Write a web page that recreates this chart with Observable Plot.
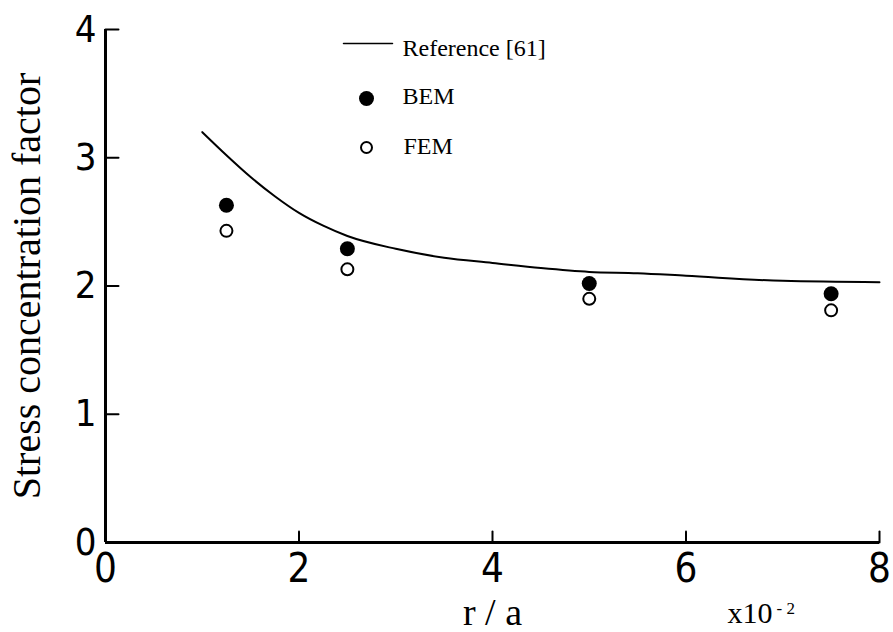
<!DOCTYPE html>
<html>
<head>
<meta charset="utf-8">
<script src="https://cdn.jsdelivr.net/npm/d3@7"></script>
<script src="https://cdn.jsdelivr.net/npm/@observablehq/plot@0.6"></script>
<style>
  body { margin: 0; background: #fff; }
  #chart svg { display: block; }
</style>
</head>
<body>
<div id="chart"></div>
<script>
// Reference [61] curve (r/a in units of 1e-2)
const refX = [1.0, 1.25, 1.5, 1.75, 2.0, 2.25, 2.5, 3.0, 3.5, 4.0, 4.5, 5.0, 5.5, 6.0, 7.0, 8.0];
const refY = [3.20, 3.02, 2.85, 2.70, 2.57, 2.47, 2.39, 2.29, 2.22, 2.18, 2.14, 2.11, 2.10, 2.08, 2.04, 2.03];
// Numerical results
const ptX  = [1.25, 2.5, 5.0, 7.5];
const bemY = [2.63, 2.29, 2.02, 1.94];
const femY = [2.43, 2.13, 1.90, 1.81];
// Axes
const xTicks = [0, 2, 4, 6, 8];
const yTicks = [0, 1, 2, 3, 4];
const yTitle = "Stress concentration factor";
const xTitle = "r / a";
const xExp = "x10";
const xExpSup = "- 2";
const legendLabels = ["Reference [61]", "BEM", "FEM"];

const refData = refX.map((x, i) => ({x, y: refY[i]}));
const bemData = ptX.map((x, i) => ({x, y: bemY[i]}));
const femData = ptX.map((x, i) => ({x, y: femY[i]}));

const sans = "'Liberation Sans Narrow', 'DejaVu Sans Condensed', 'Liberation Sans', sans-serif";
const serif = "'Liberation Serif', 'DejaVu Serif', serif";
const tickShape = {draw(ctx, l) { ctx.moveTo(0, 0); ctx.lineTo(0, -l); }};

const chart = Plot.plot({
  width: 893,
  height: 632,
  marginLeft: 105,
  marginRight: 14,
  marginTop: 29,
  marginBottom: 90,
  x: {domain: [0, 8]},
  y: {domain: [0, 4]},
  style: {background: "#fff", color: "#000"},
  marks: [
    // tick labels
    Plot.axisX({ticks: xTicks, tickFormat: d => String(d), tickSize: 0, tickPadding: 11, fontSize: 40, fontFamily: sans, label: null, fill: "#000"}),
    Plot.axisY({ticks: yTicks, tickFormat: d => String(d), tickSize: 0, tickPadding: 9, fontSize: 38, fontFamily: sans, label: null, fill: "#000"}),
    // inward ticks
    Plot.vector(xTicks.filter(d => d > 0), {x: d => d, y: 0, length: 11, rotate: 0, anchor: "start", shape: tickShape, stroke: "#000", strokeWidth: 2}),
    Plot.vector(yTicks.filter(d => d > 0), {x: 0, y: d => d, length: 13, rotate: 90, anchor: "start", shape: tickShape, stroke: "#000", strokeWidth: 2}),
    // axis lines
    Plot.ruleX([0], {stroke: "#000", strokeWidth: 3}),
    Plot.ruleY([0], {stroke: "#000", strokeWidth: 3}),
    // reference curve
    Plot.line(refData, {x: "x", y: "y", curve: "monotone-x", stroke: "#000", strokeWidth: 2}),
    // FEM open circles
    Plot.dot(femData, {x: "x", y: "y", r: 6, stroke: "#000", strokeWidth: 2, fill: "#fff"}),
    // BEM filled dots
    Plot.dot(bemData, {x: "x", y: "y", r: 7.5, fill: "#000", stroke: "none"}),
    // titles
    Plot.text([yTitle], {text: d => d, frameAnchor: "left", dx: -78, rotate: -90, textAnchor: "middle", lineAnchor: "middle", fontSize: 40, fontFamily: serif, fill: "#000"}),
    Plot.text([xTitle], {text: d => d, frameAnchor: "bottom", dy: 82, textAnchor: "middle", lineAnchor: "bottom", fontSize: 38, fontFamily: serif, fill: "#000"}),
    Plot.text([xExp], {text: d => d, frameAnchor: "bottom-right", dx: -152, dy: 80, textAnchor: "start", lineAnchor: "bottom", fontSize: 30, fontFamily: serif, fill: "#000"}),
    Plot.text([xExpSup], {text: d => d, frameAnchor: "bottom-right", dx: -103, dy: 71, textAnchor: "start", lineAnchor: "bottom", fontSize: 17, fontFamily: serif, fill: "#000"}),
    // legend
    Plot.vector([0], {frameAnchor: "top-left", dx: 238, dy: 14, length: 49, rotate: 90, anchor: "start", shape: tickShape, stroke: "#000", strokeWidth: 1.5}),
    Plot.text([legendLabels[0]], {text: d => d, frameAnchor: "top-left", dx: 297, dy: 26, textAnchor: "start", lineAnchor: "bottom", fontSize: 24, fontFamily: serif, fill: "#000"}),
    Plot.dot([0], {frameAnchor: "top-left", dx: 261, dy: 69, r: 7.5, fill: "#000", stroke: "none"}),
    Plot.text([legendLabels[1]], {text: d => d, frameAnchor: "top-left", dx: 297, dy: 74, textAnchor: "start", lineAnchor: "bottom", fontSize: 24, fontFamily: serif, fill: "#000"}),
    Plot.dot([0], {frameAnchor: "top-left", dx: 261, dy: 118, r: 5.5, stroke: "#000", strokeWidth: 2, fill: "#fff"}),
    Plot.text([legendLabels[2]], {text: d => d, frameAnchor: "top-left", dx: 298, dy: 124, textAnchor: "start", lineAnchor: "bottom", fontSize: 24, fontFamily: serif, fill: "#000"})
  ]
});
document.getElementById("chart").appendChild(chart);
</script>
</body>
</html>
